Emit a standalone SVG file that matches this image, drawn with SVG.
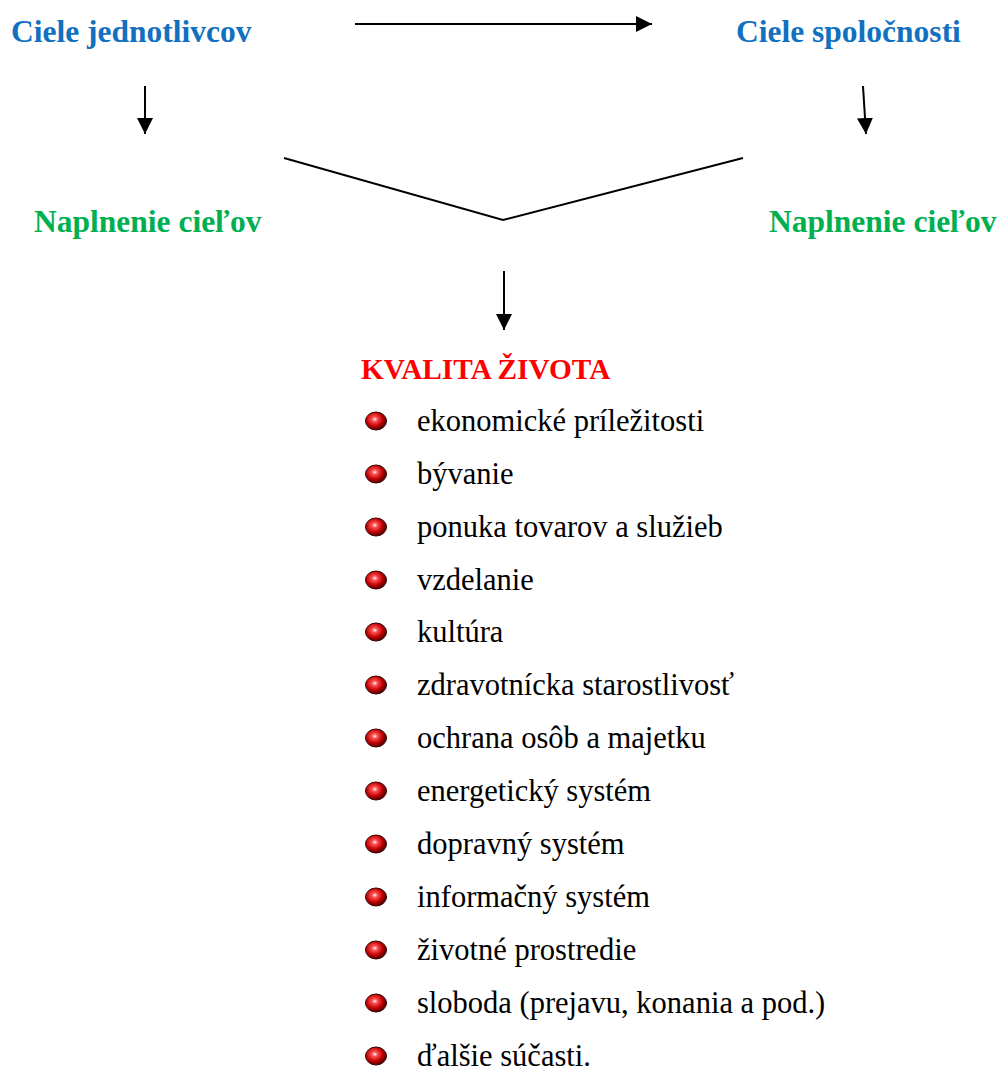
<svg xmlns="http://www.w3.org/2000/svg" width="1002" height="1068" viewBox="0 0 1002 1068">
<style>
.h{font-family:"Liberation Serif","Times New Roman",serif;font-weight:bold;font-size:31.5px}
.blue{fill:#1170c0}
.green{fill:#00b050}
.red{fill:#ff0000}
.li{font-family:"Liberation Serif","Times New Roman",serif;font-size:30.5px;fill:#000}
.ln{stroke:#000;stroke-width:2;fill:none}
</style>
<defs>
<marker id="ah" viewBox="0 0 16 16" refX="16" refY="8" markerWidth="16" markerHeight="16" markerUnits="userSpaceOnUse" orient="auto">
<path d="M0,0 L16,8 L0,16 Z" fill="#000"/>
</marker>
<radialGradient id="ball" cx="0.4" cy="0.4" r="0.65" fx="0.45" fy="0.4">
<stop offset="0" stop-color="#ffffff"/>
<stop offset="0.2" stop-color="#ff5050"/>
<stop offset="0.6" stop-color="#c00000"/>
<stop offset="1" stop-color="#3a0000"/>
</radialGradient>
<g id="bul"><ellipse cx="0" cy="0" rx="10.5" ry="9" fill="url(#ball)" stroke="#300" stroke-width="1"/></g>
</defs>
<g id="connectors">
<line class="ln" x1="355" y1="24" x2="652" y2="24" marker-end="url(#ah)"/>
<line class="ln" x1="145" y1="86" x2="145" y2="134" marker-end="url(#ah)"/>
<line class="ln" x1="863" y1="86" x2="866" y2="134" marker-end="url(#ah)"/>
<polyline class="ln" points="284,158 503,220 743,158"/>
<line class="ln" x1="504" y1="271" x2="504" y2="330" marker-end="url(#ah)"/>
</g>
<g id="n-ciele-jednotlivcov"><text class="h blue" x="11" y="42">Ciele jednotlivcov</text></g>
<g id="n-ciele-spolocnosti"><text class="h blue" x="736" y="42">Ciele spoločnosti</text></g>
<g id="n-naplnenie-left"><text class="h green" x="34" y="232">Naplnenie cieľov</text></g>
<g id="n-naplnenie-right"><text class="h green" x="769" y="232">Naplnenie cieľov</text></g>
<g id="n-kvalita">
<text class="h red" x="361" y="379" style="font-size:29.3px">KVALITA ŽIVOTA</text>
<use href="#bul" x="376" y="421"/><text class="li" x="417" y="431">ekonomické príležitosti</text>
<use href="#bul" x="376" y="474"/><text class="li" x="417" y="484">bývanie</text>
<use href="#bul" x="376" y="527"/><text class="li" x="417" y="537">ponuka tovarov a služieb</text>
<use href="#bul" x="376" y="580"/><text class="li" x="417" y="590">vzdelanie</text>
<use href="#bul" x="376" y="632"/><text class="li" x="417" y="642">kultúra</text>
<use href="#bul" x="376" y="685"/><text class="li" x="417" y="695">zdravotnícka starostlivosť</text>
<use href="#bul" x="376" y="738"/><text class="li" x="417" y="748">ochrana osôb a majetku</text>
<use href="#bul" x="376" y="791"/><text class="li" x="417" y="801">energetický systém</text>
<use href="#bul" x="376" y="844"/><text class="li" x="417" y="854">dopravný systém</text>
<use href="#bul" x="376" y="897"/><text class="li" x="417" y="907">informačný systém</text>
<use href="#bul" x="376" y="950"/><text class="li" x="417" y="960">životné prostredie</text>
<use href="#bul" x="376" y="1003"/><text class="li" x="417" y="1013">sloboda (prejavu, konania a pod.)</text>
<use href="#bul" x="376" y="1056"/><text class="li" x="417" y="1066">ďalšie súčasti.</text>
</g>
</svg>
